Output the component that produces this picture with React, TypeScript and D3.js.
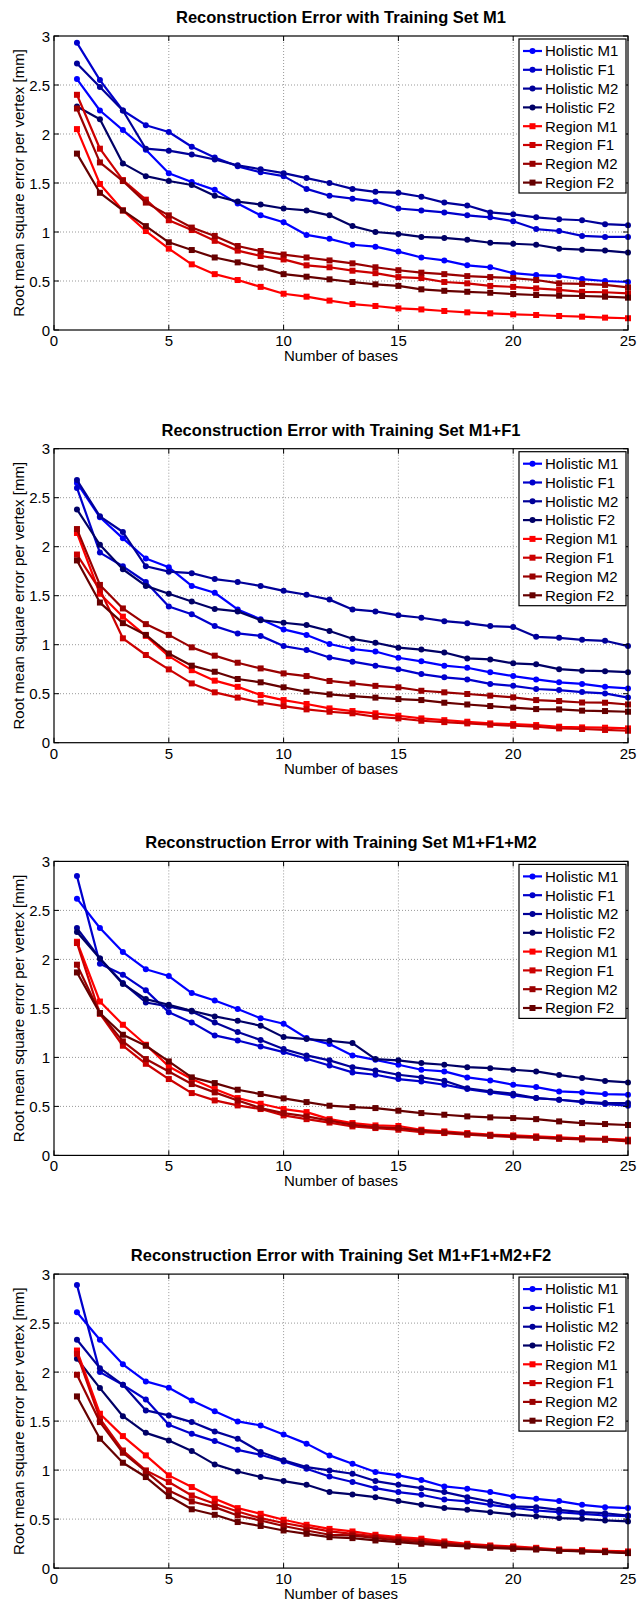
import React from "react";
import * as d3 from "d3";

// number of bases on the x axis
const bases = [1, 2, 3, 4, 5, 6, 7, 8, 9, 10, 11, 12, 13, 14, 15, 16, 17, 18, 19, 20, 21, 22, 23, 24, 25];
const xTicks = [0, 5, 10, 15, 20, 25];
const yTicks = [0, 0.5, 1, 1.5, 2, 2.5, 3];

const seriesNames = [
  "Holistic M1", "Holistic F1", "Holistic M2", "Holistic F2",
  "Region M1", "Region F1", "Region M2", "Region F2",
];
const seriesColors = [
  "#0000ff", "#0000cc", "#000099", "#000066",
  "#ff0000", "#cc0000", "#990000", "#660000",
];
const trainingSets = ["M1", "M1+F1", "M1+F1+M2", "M1+F1+M2+F2"];

// RMS error per vertex [mm], one row per series (same order as seriesNames)
const errM1 = [
  [2.56, 2.24, 2.04, 1.84, 1.60, 1.51, 1.43, 1.29, 1.17, 1.10, 0.97, 0.93, 0.87, 0.85, 0.80, 0.74, 0.71, 0.66, 0.64, 0.58, 0.56, 0.55, 0.52, 0.50, 0.49],
  [2.93, 2.55, 2.24, 2.09, 2.02, 1.87, 1.76, 1.67, 1.61, 1.57, 1.44, 1.37, 1.34, 1.31, 1.24, 1.22, 1.20, 1.17, 1.15, 1.11, 1.03, 1.01, 0.96, 0.95, 0.95],
  [2.72, 2.48, 2.24, 1.85, 1.83, 1.79, 1.74, 1.68, 1.64, 1.60, 1.55, 1.50, 1.44, 1.41, 1.40, 1.36, 1.30, 1.27, 1.20, 1.18, 1.15, 1.13, 1.12, 1.08, 1.07],
  [2.28, 2.15, 1.70, 1.57, 1.52, 1.48, 1.37, 1.31, 1.28, 1.24, 1.22, 1.17, 1.06, 1.00, 0.98, 0.95, 0.94, 0.92, 0.89, 0.88, 0.87, 0.83, 0.82, 0.81, 0.79],
  [2.05, 1.49, 1.22, 1.01, 0.83, 0.67, 0.57, 0.51, 0.44, 0.37, 0.34, 0.30, 0.265, 0.245, 0.22, 0.21, 0.194, 0.18, 0.17, 0.16, 0.153, 0.143, 0.136, 0.126, 0.12],
  [2.40, 1.85, 1.53, 1.33, 1.12, 1.02, 0.91, 0.81, 0.755, 0.72, 0.66, 0.64, 0.605, 0.58, 0.54, 0.53, 0.49, 0.476, 0.45, 0.44, 0.425, 0.41, 0.39, 0.385, 0.374],
  [2.26, 1.71, 1.52, 1.30, 1.17, 1.045, 0.96, 0.857, 0.806, 0.77, 0.74, 0.71, 0.68, 0.64, 0.61, 0.585, 0.57, 0.55, 0.54, 0.53, 0.51, 0.476, 0.47, 0.46, 0.435],
  [1.80, 1.40, 1.22, 1.06, 0.895, 0.816, 0.74, 0.69, 0.636, 0.57, 0.544, 0.517, 0.49, 0.466, 0.45, 0.415, 0.40, 0.39, 0.38, 0.367, 0.357, 0.35, 0.347, 0.34, 0.33],
];

const errM1F1 = [
  [2.65, 2.30, 2.085, 1.88, 1.79, 1.60, 1.53, 1.36, 1.26, 1.156, 1.10, 1.007, 0.956, 0.93, 0.867, 0.83, 0.786, 0.765, 0.718, 0.68, 0.646, 0.616, 0.60, 0.57, 0.554],
  [2.60, 1.94, 1.80, 1.64, 1.39, 1.31, 1.19, 1.115, 1.09, 0.986, 0.946, 0.87, 0.827, 0.786, 0.75, 0.70, 0.667, 0.646, 0.60, 0.58, 0.548, 0.537, 0.517, 0.503, 0.46],
  [2.68, 2.31, 2.15, 1.80, 1.745, 1.73, 1.67, 1.64, 1.60, 1.55, 1.51, 1.46, 1.36, 1.34, 1.30, 1.275, 1.24, 1.22, 1.19, 1.18, 1.08, 1.07, 1.05, 1.04, 0.986],
  [2.38, 2.02, 1.77, 1.60, 1.52, 1.44, 1.365, 1.34, 1.25, 1.224, 1.20, 1.14, 1.06, 1.02, 0.97, 0.95, 0.92, 0.86, 0.85, 0.81, 0.80, 0.75, 0.735, 0.73, 0.72],
  [2.14, 1.52, 1.286, 1.09, 0.884, 0.74, 0.633, 0.57, 0.486, 0.435, 0.395, 0.35, 0.323, 0.30, 0.275, 0.248, 0.23, 0.214, 0.197, 0.19, 0.18, 0.163, 0.156, 0.153, 0.146],
  [1.92, 1.56, 1.065, 0.895, 0.748, 0.605, 0.514, 0.46, 0.41, 0.374, 0.34, 0.316, 0.30, 0.265, 0.248, 0.224, 0.21, 0.197, 0.184, 0.173, 0.163, 0.146, 0.14, 0.13, 0.122],
  [2.18, 1.61, 1.37, 1.21, 1.10, 0.973, 0.888, 0.816, 0.758, 0.707, 0.68, 0.63, 0.605, 0.58, 0.565, 0.53, 0.514, 0.497, 0.48, 0.463, 0.435, 0.425, 0.41, 0.408, 0.39],
  [1.86, 1.43, 1.22, 1.10, 0.91, 0.786, 0.724, 0.65, 0.616, 0.565, 0.52, 0.493, 0.476, 0.46, 0.445, 0.435, 0.408, 0.39, 0.374, 0.357, 0.343, 0.34, 0.327, 0.323, 0.316],
];

const errM1F1M2 = [
  [2.62, 2.32, 2.075, 1.90, 1.83, 1.656, 1.58, 1.493, 1.40, 1.343, 1.197, 1.136, 1.02, 0.975, 0.925, 0.874, 0.857, 0.796, 0.765, 0.72, 0.697, 0.653, 0.643, 0.626, 0.62],
  [2.85, 1.956, 1.843, 1.684, 1.46, 1.357, 1.224, 1.173, 1.112, 1.054, 0.986, 0.918, 0.847, 0.823, 0.779, 0.755, 0.721, 0.677, 0.643, 0.612, 0.585, 0.568, 0.544, 0.524, 0.507],
  [2.32, 2.01, 1.76, 1.56, 1.52, 1.469, 1.357, 1.259, 1.177, 1.085, 1.02, 0.97, 0.90, 0.867, 0.823, 0.796, 0.762, 0.684, 0.653, 0.629, 0.585, 0.568, 0.55, 0.534, 0.534],
  [2.28, 2.01, 1.75, 1.595, 1.537, 1.476, 1.418, 1.374, 1.323, 1.207, 1.187, 1.17, 1.146, 0.983, 0.97, 0.942, 0.925, 0.90, 0.89, 0.874, 0.857, 0.82, 0.79, 0.76, 0.745],
  [2.18, 1.57, 1.333, 1.129, 0.908, 0.779, 0.677, 0.585, 0.527, 0.473, 0.442, 0.37, 0.33, 0.306, 0.30, 0.262, 0.245, 0.228, 0.211, 0.204, 0.194, 0.184, 0.175, 0.17, 0.16],
  [2.167, 1.445, 1.119, 0.935, 0.779, 0.636, 0.561, 0.51, 0.473, 0.408, 0.37, 0.335, 0.296, 0.279, 0.262, 0.238, 0.228, 0.211, 0.20, 0.187, 0.18, 0.17, 0.163, 0.16, 0.143],
  [1.946, 1.452, 1.163, 0.983, 0.857, 0.728, 0.643, 0.561, 0.483, 0.432, 0.398, 0.355, 0.313, 0.289, 0.279, 0.252, 0.235, 0.218, 0.204, 0.194, 0.184, 0.173, 0.168, 0.163, 0.15],
  [1.867, 1.452, 1.231, 1.119, 0.959, 0.796, 0.738, 0.67, 0.626, 0.582, 0.544, 0.507, 0.493, 0.483, 0.456, 0.432, 0.415, 0.398, 0.388, 0.381, 0.37, 0.347, 0.33, 0.32, 0.31],
];

const errM1F1M2F2 = [
  [2.61, 2.33, 2.08, 1.905, 1.84, 1.71, 1.60, 1.497, 1.456, 1.364, 1.27, 1.15, 1.065, 0.98, 0.946, 0.90, 0.833, 0.81, 0.776, 0.73, 0.707, 0.684, 0.646, 0.622, 0.612],
  [2.89, 2.00, 1.87, 1.72, 1.463, 1.37, 1.296, 1.207, 1.156, 1.088, 1.014, 0.935, 0.878, 0.816, 0.776, 0.748, 0.70, 0.68, 0.646, 0.616, 0.588, 0.571, 0.554, 0.537, 0.53],
  [2.33, 2.04, 1.87, 1.609, 1.558, 1.49, 1.395, 1.32, 1.184, 1.10, 1.03, 0.997, 0.963, 0.888, 0.85, 0.816, 0.776, 0.724, 0.68, 0.63, 0.622, 0.595, 0.571, 0.56, 0.537],
  [2.136, 1.837, 1.55, 1.38, 1.303, 1.194, 1.058, 0.986, 0.93, 0.888, 0.85, 0.776, 0.752, 0.724, 0.684, 0.646, 0.612, 0.595, 0.571, 0.548, 0.53, 0.51, 0.503, 0.486, 0.476],
  [2.22, 1.575, 1.347, 1.15, 0.946, 0.827, 0.707, 0.612, 0.554, 0.493, 0.442, 0.40, 0.374, 0.34, 0.316, 0.30, 0.272, 0.248, 0.231, 0.221, 0.207, 0.19, 0.183, 0.177, 0.17],
  [2.187, 1.524, 1.20, 0.997, 0.878, 0.741, 0.656, 0.578, 0.51, 0.46, 0.418, 0.374, 0.35, 0.323, 0.30, 0.282, 0.258, 0.238, 0.224, 0.214, 0.20, 0.184, 0.177, 0.17, 0.163],
  [1.973, 1.49, 1.177, 0.986, 0.793, 0.68, 0.622, 0.537, 0.486, 0.43, 0.384, 0.34, 0.333, 0.306, 0.282, 0.265, 0.248, 0.231, 0.214, 0.207, 0.194, 0.18, 0.173, 0.167, 0.156],
  [1.752, 1.32, 1.075, 0.929, 0.735, 0.60, 0.544, 0.47, 0.43, 0.384, 0.35, 0.316, 0.306, 0.282, 0.265, 0.248, 0.231, 0.221, 0.207, 0.197, 0.19, 0.177, 0.17, 0.163, 0.153],
];

const panelErrors = [errM1, errM1F1, errM1F1M2, errM1F1M2F2];

const W = 640;
const H = 1602;
const FONT = "'Liberation Sans', Arial, Helvetica, sans-serif";
const plotLeft = 54;
const plotRight = 628;
const firstTop = 36;
const plotH = 294;
const panelStep = 412.7;

const Panel = ({ index }: { index: number }) => {
  const top = firstTop + index * panelStep;
  const bottom = top + plotH;
  const x = d3.scaleLinear().domain([0, 25]).range([plotLeft, plotRight]);
  const y = d3.scaleLinear().domain([0, 3]).range([bottom, top]);
  const line = d3
    .line<number>()
    .x((d, i) => x(bases[i]))
    .y((d) => y(d));
  const data = panelErrors[index];
  const tickLen = 5;
  const midX = (plotLeft + plotRight) / 2;

  const legX = 519;
  const legW = 107;
  const legTop = top + 3;
  const rowH = 18.8;

  return (
    <g>
      <text x={midX} y={top - 13} textAnchor="middle" fontFamily={FONT} fontWeight="bold" fontSize={16.5}>
        {"Reconstruction Error with Training Set " + trainingSets[index]}
      </text>

      {/* grid */}
      {xTicks.slice(1, -1).map((t) => (
        <line key={"gx" + t} x1={x(t)} x2={x(t)} y1={top} y2={bottom} stroke="#999" strokeDasharray="1,2" />
      ))}
      {yTicks.slice(1, -1).map((t) => (
        <line key={"gy" + t} x1={plotLeft} x2={plotRight} y1={y(t)} y2={y(t)} stroke="#999" strokeDasharray="1,2" />
      ))}

      {/* series */}
      {data.map((vals, s) => (
        <g key={"s" + s}>
          <path d={line(vals) || ""} fill="none" stroke={seriesColors[s]} strokeWidth={2.2} strokeLinejoin="round" />
          {vals.map((v, i) =>
            s < 4 ? (
              <circle key={i} cx={x(bases[i])} cy={y(v)} r={3} fill={seriesColors[s]} />
            ) : (
              <rect key={i} x={x(bases[i]) - 3} y={y(v) - 3} width={6} height={6} fill={seriesColors[s]} />
            )
          )}
        </g>
      ))}

      {/* axes box + ticks */}
      <rect x={plotLeft} y={top} width={plotRight - plotLeft} height={plotH} fill="none" stroke="#000" strokeWidth={1.2} />
      {xTicks.map((t) => (
        <g key={"tx" + t}>
          <line x1={x(t)} x2={x(t)} y1={bottom} y2={bottom - tickLen} stroke="#000" />
          <line x1={x(t)} x2={x(t)} y1={top} y2={top + tickLen} stroke="#000" />
          <text x={x(t)} y={bottom + 16} textAnchor="middle" fontFamily={FONT} fontSize={15}>
            {t}
          </text>
        </g>
      ))}
      {yTicks.map((t) => (
        <g key={"ty" + t}>
          <line x1={plotLeft} x2={plotLeft + tickLen} y1={y(t)} y2={y(t)} stroke="#000" />
          <line x1={plotRight} x2={plotRight - tickLen} y1={y(t)} y2={y(t)} stroke="#000" />
          <text x={50} y={y(t) + 5.5} textAnchor="end" fontFamily={FONT} fontSize={15}>
            {t}
          </text>
        </g>
      ))}

      <text x={midX} y={bottom + 31} textAnchor="middle" fontFamily={FONT} fontSize={15}>
        Number of bases
      </text>
      <text
        transform={`translate(24,${(top + bottom) / 2}) rotate(-90)`}
        textAnchor="middle"
        fontFamily={FONT}
        fontSize={15}
      >
        Root mean square error per vertex [mm]
      </text>

      {/* legend */}
      <rect x={legX} y={legTop} width={legW} height={154} fill="#fff" stroke="#000" strokeWidth={1.2} />
      {seriesNames.map((name, s) => {
        const cy = legTop + 12 + s * rowH;
        return (
          <g key={"l" + s}>
            <line x1={523} x2={542} y1={cy} y2={cy} stroke={seriesColors[s]} strokeWidth={2.2} />
            {s < 4 ? (
              <circle cx={532.5} cy={cy} r={3} fill={seriesColors[s]} />
            ) : (
              <rect x={529.5} y={cy - 3} width={6} height={6} fill={seriesColors[s]} />
            )}
            <text x={545} y={cy + 5.3} fontFamily={FONT} fontSize={15}>
              {name}
            </text>
          </g>
        );
      })}
    </g>
  );
};

export default function App() {
  return (
    <svg
      width={W}
      height={H}
      viewBox={`0 0 ${W} ${H}`}
      style={{ position: "absolute", left: 0, top: 0, background: "#fff" }}
    >
      <rect width={W} height={H} fill="#fff" />
      {trainingSets.map((t, i) => (
        <Panel key={t} index={i} />
      ))}
    </svg>
  );
}
